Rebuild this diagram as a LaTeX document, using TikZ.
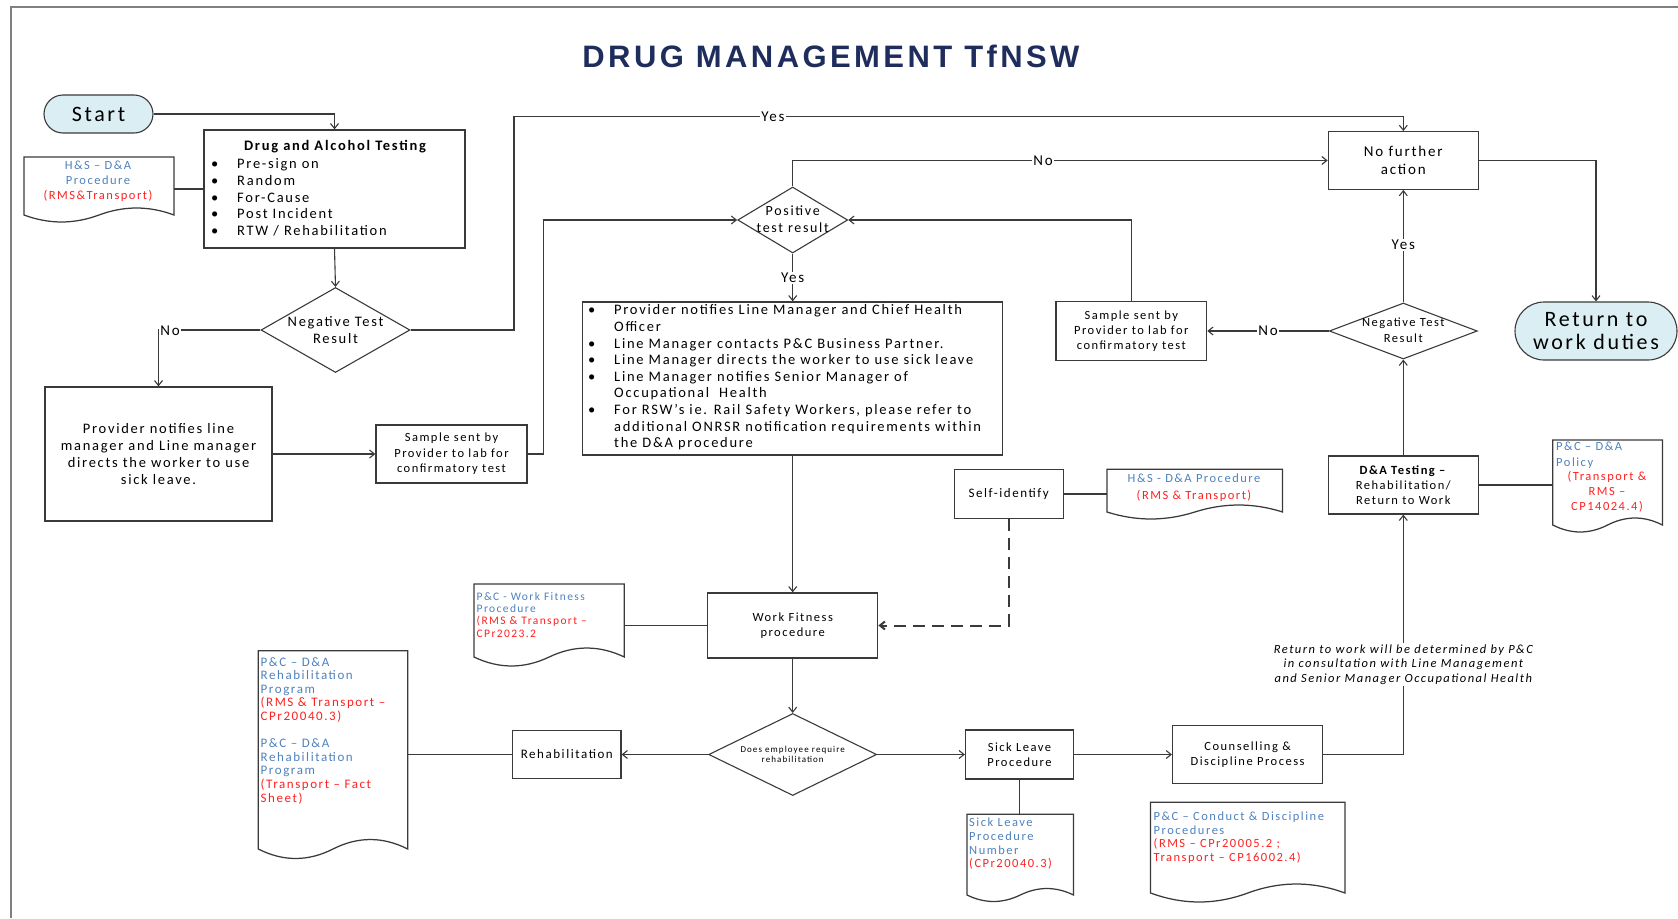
\documentclass[tikz,border=0pt]{standalone}
\usepackage{fontspec}
\setmainfont{Carlito}[LetterSpace=12]
\newfontfamily\titlefont{Liberation Sans}[LetterSpace=11]
\usetikzlibrary{shapes.geometric,arrows.meta}
\definecolor{tblue}{HTML}{1F2D5C}
\definecolor{lblue}{HTML}{DAEEF3}
\definecolor{docblue}{HTML}{4F81BD}
\definecolor{docred}{HTML}{FF2020}
\definecolor{linec}{HTML}{3A3A3A}
\definecolor{framec}{HTML}{808080}
\newcommand\fsz[2]{\fontsize{#1}{#2}\selectfont}
\newcommand\bulA{\makebox[26pt][l]{\textbullet}}
\newcommand\bulI{\hspace*{26pt}}
\newcommand\docshape[6]{%
  \node[inner sep=0pt, minimum width={(#4-#2)*1pt}, minimum height={(#5-#3)*1pt}] (#1) at ({(#2+#4)/2},{(#3+#5)/2}) {};
  \draw[docl] (#2,#3) -- (#4,#3) -- (#4,#5) .. controls ({#4-(#4-#2)/6},{#5-1.33*#6}) and ({#4-(#4-#2)/3},{#5-1.33*#6}) .. ({(#2+#4)/2},#5) .. controls ({#2+(#4-#2)/3},{#5+1.33*#6}) and ({#2+(#4-#2)/6},{#5+1.33*#6}) .. (#2,#5) -- cycle;
}
\tikzset{
  box/.style={draw=linec, line width=1.25pt, rectangle, inner sep=0pt},
  term/.style={draw=linec, line width=1.1pt, fill=lblue, rectangle, inner sep=0pt, align=center},
  dia/.style={draw=linec, line width=1.1pt, diamond, inner sep=0pt},
  txt/.style={inner sep=0pt, align=center, text=black},
  conn/.style={draw=linec, line width=1.1pt},
  arr/.style={conn, -{Straight Barb[length=5pt,width=8pt]}},
  lbl/.style={fill=white, inner sep=1pt, font=\fsz{15}{18}},
  docl/.style={draw=linec, line width=1.25pt},
}
\begin{document}
\begin{tikzpicture}[x=1pt,y=-1pt]
\useasboundingbox (0,0) rectangle (1678,918);
\draw[framec, line width=2pt] (11,918) -- (11,7) -- (1678,7);

\node[txt, font=\titlefont\bfseries\fsz{31}{34}, text=tblue] (title) at (831,56) {DRUG MANAGEMENT TfNSW};

% left column
\node[term, minimum width=109pt, minimum height=38pt, rounded corners=19pt, font=\fsz{22}{26}] (start) at (98.5,114) {Start};
\node[box, minimum width=261pt, minimum height=118pt] (dat) at (334.5,189) {};
\node[txt, font=\bfseries\fsz{14.5}{16.7}] (datH) at (335,147) {Drug and Alcohol Testing};
\node[txt, align=left, anchor=west, font=\fsz{14.5}{16.7}] (datL) at (211,197.5) {\bulA Pre-sign on\\ \bulA Random\\ \bulA For-Cause\\ \bulA Post Incident\\ \bulA RTW / Rehabilitation};

\docshape{hsd}{24}{157}{174}{215}{7}
\node[txt, font=\fsz{12.5}{15}] (hsdT) at (98,181) {\textcolor{docblue}{H\&S – D\&A}\\\textcolor{docblue}{Procedure}\\\textcolor{docred}{(RMS\&Transport)}};

\node[dia, minimum width=149pt, minimum height=85pt] (neg1) at (335.5,330) {};
\node[txt, font=\fsz{14.5}{16.3}] (neg1T) at (335.5,330) {Negative Test\\Result};

\node[box, minimum width=227pt, minimum height=134pt, align=center, font=\fsz{14.5}{17}] (prov) at (158.5,454) {Provider notifies line\\manager and Line manager\\directs the worker to use\\sick leave.};
\node[box, minimum width=151pt, minimum height=58pt, align=center, font=\fsz{12.5}{15.5}] (s1) at (451.5,454) {Sample sent by\\Provider to lab for\\confirmatory test};

% centre column
\node[dia, minimum width=110pt, minimum height=66pt] (pos) at (792.7,220) {};
\node[txt, font=\fsz{14}{17}] (posT) at (792.7,219.5) {Positive\\test result};

\node[box, minimum width=420pt, minimum height=153pt] (big) at (792.7,378.5) {};
\node[txt, align=left, anchor=west, font=\fsz{14.5}{16.6}] (bigL) at (588,377.5) {\bulA Provider notifies Line Manager and Chief Health\\ \bulI Officer\\ \bulA Line Manager contacts P\&C Business Partner.\\ \bulA Line Manager directs the worker to use sick leave\\ \bulA Line Manager notifies Senior Manager of\\ \bulI Occupational\ \ Health\\ \bulA For RSW’s ie. Rail Safety Workers, please refer to\\ \bulI additional ONRSR notification requirements within\\ \bulI the D\&A procedure};

\node[box, minimum width=170pt, minimum height=65pt, align=center, font=\fsz{12.5}{15}] (wf) at (792.7,625.5) {Work Fitness\\procedure};
\docshape{wfd}{474}{584}{624.3}{657}{9}
\node[txt, align=left, anchor=west, font=\fsz{11.5}{12.4}] (wfdT) at (476.5,614.7) {\textcolor{docblue}{P\&C - Work Fitness}\\\textcolor{docblue}{Procedure}\\\textcolor{docred}{(RMS \& Transport –}\\\textcolor{docred}{CPr2023.2}};

\node[dia, minimum width=168pt, minimum height=82pt] (rdia) at (792.7,754.5) {};
\node[txt, font=\fsz{9}{10.5}] (rdiaT) at (792.7,754.3) {Does employee require\\rehabilitation};

\node[box, minimum width=108.3pt, minimum height=48.3pt, font=\fsz{13}{15}] (reh) at (566.8,754.5) {Rehabilitation};
\docshape{rehd}{258.3}{650.7}{407.7}{849}{9.5}
\node[txt, align=left, anchor=west, font=\fsz{13}{13.6}] (rehdT) at (260.5,730.5) {\textcolor{docblue}{P\&C – D\&A}\\\textcolor{docblue}{Rehabilitation}\\\textcolor{docblue}{Program}\\\textcolor{docred}{(RMS \& Transport –}\\\textcolor{docred}{CPr20040.3)}\\[13.6pt]\textcolor{docblue}{P\&C – D\&A}\\\textcolor{docblue}{Rehabilitation}\\\textcolor{docblue}{Program}\\\textcolor{docred}{(Transport – Fact}\\\textcolor{docred}{Sheet)}};

% right part
\node[box, minimum width=150pt, minimum height=57.6pt, align=center, font=\fsz{15}{18.3}] (nfa) at (1403.3,160.5) {No further\\action};
\node[term, minimum width=162pt, minimum height=58pt, rounded corners=29pt, font=\fsz{22}{23.7}] (ret) at (1596,331) {Return to\\work duties};
\node[dia, minimum width=148pt, minimum height=56pt] (neg2) at (1403.3,331) {};
\node[txt, font=\fsz{12.5}{16}] (neg2T) at (1403.3,330.7) {Negative Test\\Result};
\node[box, minimum width=150.7pt, minimum height=58.7pt, align=center, font=\fsz{12.5}{15}] (s2) at (1131.3,331) {Sample sent by\\Provider to lab for\\confirmatory test};

\node[box, minimum width=109pt, minimum height=49.4pt, font=\fsz{13}{15}] (self) at (1008.7,494) {Self-identify};
\docshape{hsd2}{1107}{469.3}{1282.6}{512}{7}
\node[txt, font=\fsz{12.5}{16.7}] (hsd2T) at (1194,487.7) {\textcolor{docblue}{H\&S - D\&A Procedure}\\\textcolor{docred}{(RMS \& Transport)}};

\node[box, minimum width=150pt, minimum height=58pt, align=center, font=\fsz{12.5}{15}] (dat2) at (1403.3,485) {\textbf{D\&A Testing –}\\Rehabilitation/\\Return to Work};
\docshape{pol}{1552.8}{440}{1662.4}{525}{7}
\node[txt, align=left, anchor=west, font=\fsz{12.5}{15.7}] (polB) at (1556,455) {\textcolor{docblue}{P\&C – D\&A}\\\textcolor{docblue}{Policy}};
\node[txt, font=\fsz{12.5}{14.8}] (polR) at (1607,491.7) {\textcolor{docred}{(Transport \&}\\\textcolor{docred}{RMS –}\\\textcolor{docred}{CP14024.4)}};

\node[box, minimum width=108pt, minimum height=49pt, align=center, font=\fsz{12.5}{14.5}] (sick) at (1019.5,754.5) {Sick Leave\\Procedure};
\docshape{sickd}{967}{814.3}{1073.5}{895}{6.5}
\node[txt, align=left, anchor=west, font=\fsz{12.5}{13.7}] (sickdT) at (969,843.8) {\textcolor{docblue}{Sick Leave}\\\textcolor{docblue}{Procedure}\\\textcolor{docblue}{Number}\\\textcolor{docred}{(CPr20040.3)}};

\node[box, minimum width=150pt, minimum height=57.6pt, align=center, font=\fsz{12.5}{14.5}] (coun) at (1247.6,754.5) {Counselling \&\\Discipline Process};
\docshape{cond}{1150.6}{802.3}{1345}{893}{9}
\node[txt, align=left, anchor=west, font=\fsz{12.5}{13.7}] (condT) at (1153.5,837.8) {\textcolor{docblue}{P\&C – Conduct \& Discipline}\\\textcolor{docblue}{Procedures}\\\textcolor{docred}{(RMS – CPr20005.2 ;}\\\textcolor{docred}{Transport – CP16002.4)}};

% connectors
\coordinate (c1) at (543.6,454);
\coordinate (c2) at (514,116.7);
\draw[arr] (start.east) -| (dat.north);
\draw[conn] (dat.west) -- (dat.west -| hsd.east);
\draw[arr] (dat.south) -- (neg1.north);
\draw[arr] (neg1.west) -| (prov.north);
\draw[arr] (prov.east) -- (s1.west);
\draw[arr] (s1.east) -- (c1) |- (pos.west);
\draw[arr] (neg1.east) -| (c2) -| (nfa.north);
\draw[arr] (pos.north) |- (nfa.west);
\draw[arr] (pos.south) -- (big.north);
\draw[arr] (nfa.east) -| (ret.north);
\draw[arr] (neg2.north) -- (nfa.south);
\draw[arr] (neg2.west) -- (s2.east);
\draw[arr] (s2.north) |- (pos.east);
\draw[arr] (dat2.north) -- (neg2.south);
\draw[conn] (dat2.east) -- (dat2.east -| pol.west);
\draw[conn] (self.east) -- (self.east -| hsd2.west);
\draw[arr, line width=2pt, dash pattern=on 12pt off 7pt] (self.south) |- (wf.east);
\draw[arr] (big.south) -- (wf.north);
\draw[conn] (wf.west) -- (wf.west -| wfd.east);
\draw[arr] (wf.south) -- (rdia.north);
\draw[arr] (rdia.west) -- (reh.east);
\draw[conn] (reh.west) -- (reh.west -| rehd.east);
\draw[arr] (rdia.east) -- (sick.west);
\draw[arr] (sick.east) -- (coun.west);
\draw[conn] (sick.south) -- (sick.south |- sickd.north);
\draw[arr] (coun.east) -| (dat2.south);

% labels
\node[lbl] (l1) at (170,331) {No};
\node[lbl] (l2) at (773,116.7) {Yes};
\node[lbl] (l3) at (1043,160.5) {No};
\node[lbl] (l4) at (792.7,278) {Yes};
\node[lbl] (l5) at (1403.3,245) {Yes};
\node[lbl] (l6) at (1268,331) {No};
\node[txt, fill=white, inner sep=1pt, font=\itshape\fsz{12.5}{14.7}] (note) at (1403.3,664.5) {Return to work will be determined by P\&C\\in consultation with Line Management\\and Senior Manager Occupational Health};
\end{tikzpicture}
\end{document}
